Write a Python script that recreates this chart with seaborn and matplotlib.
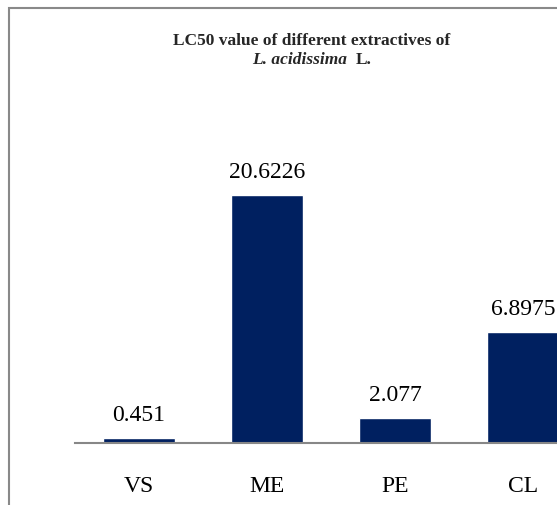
import matplotlib
matplotlib.use("Agg")
import matplotlib.pyplot as plt
import seaborn as sns
import pandas as pd
from matplotlib.patches import Rectangle

# data
extracts = ["VS", "ME", "PE", "CL"]
bar_heights = [0.451, 20.6226, 2.077, 9.2]   # CL bar is drawn taller than its label in the source
value_labels = ["0.451", "20.6226", "2.077", "6.8975"]

df = pd.DataFrame({"extract": extracts, "lc50": bar_heights})

sns.set_theme(style="white")
plt.rcParams['font.family'] = ['Liberation Serif', 'DejaVu Serif']

fig = plt.figure(figsize=(5.57, 5.06), dpi=100)
ax = fig.add_axes([75 / 557, 62 / 506, 512 / 557, 301 / 506])

sns.barplot(data=df, x="extract", y="lc50", color="#002060", saturation=1,
            width=0.57, ax=ax)

ax.set_xlim(-0.5, 3.5)
ax.set_ylim(0, 25)
ax.set_xlabel("")
ax.set_ylabel("")
ax.set_yticks([])
ax.tick_params(axis="x", length=0, pad=23, labelsize=17, labelcolor="black")
for s in ["top", "right", "left"]:
    ax.spines[s].set_visible(False)
ax.spines["bottom"].set_color("#878787")
ax.spines["bottom"].set_linewidth(1.5)

# value labels above bars
for i, (h, lab) in enumerate(zip(bar_heights, value_labels)):
    ax.annotate(lab, (i, h), xytext=(0, 13), textcoords="offset points",
                ha="center", va="baseline", fontsize=17, color="black")

# title, two lines, species name in italics
fig.text(312 / 557, 1 - 41 / 506, "LC50 value of different extractives of",
         ha="center", va="center", fontsize=12.5, fontweight="bold")
fig.text(347 / 557, 1 - 60 / 506, "L. acidissima", ha="right", va="center",
         fontsize=12.5, fontstyle="italic", fontweight="bold")
fig.text(356 / 557, 1 - 60 / 506, "L.", ha="left", va="center",
         fontsize=12.5, fontweight="bold")

# outer chart frame (cut off at right and bottom)
fig.add_artist(Rectangle((8.5 / 557, -0.1), 2, 1 - 8.5 / 506 + 0.1,
                         transform=fig.transFigure, fill=False,
                         edgecolor="#898989", linewidth=1.5))

fig.savefig("out.png", dpi=100)
